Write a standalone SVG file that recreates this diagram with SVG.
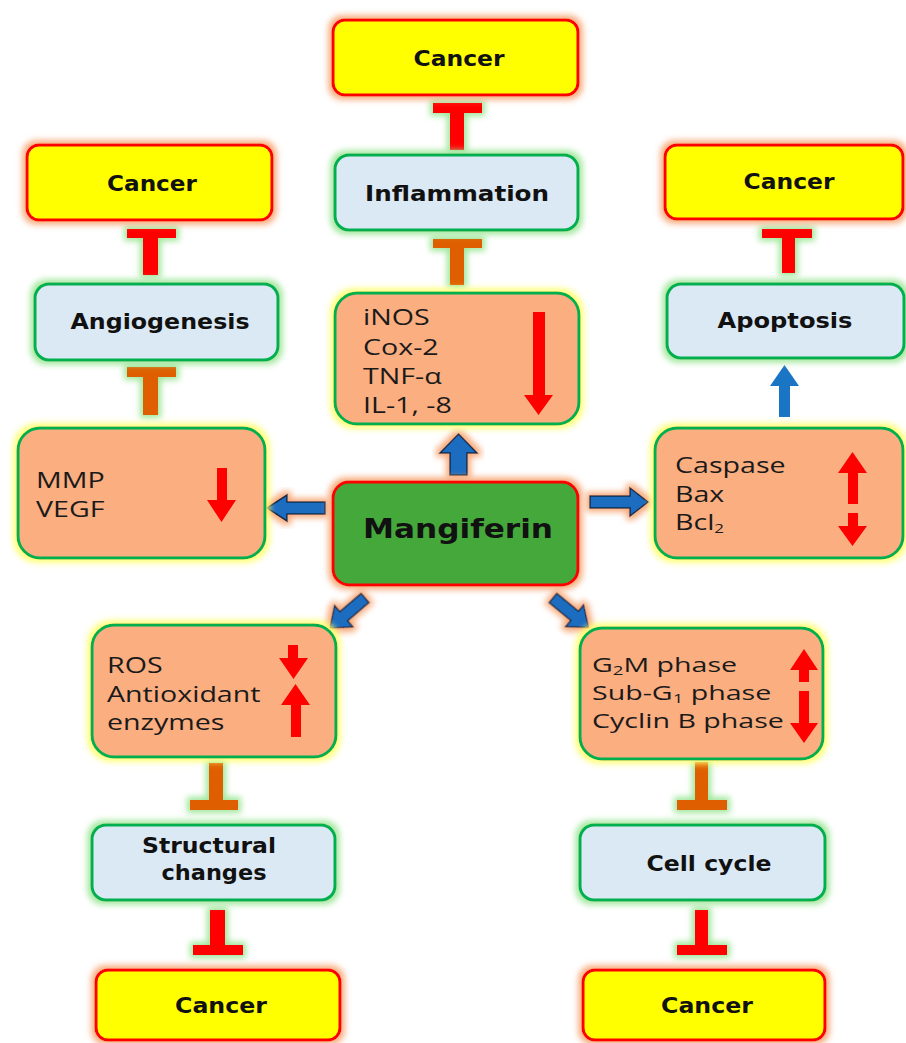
<svg xmlns="http://www.w3.org/2000/svg" width="906" height="1043" viewBox="0 0 906 1043">
<defs>
<filter id="glowO" x="-20%" y="-30%" width="140%" height="160%">
<feMorphology in="SourceAlpha" operator="dilate" radius="3" result="d"/>
<feGaussianBlur in="d" stdDeviation="3" result="b"/>
<feFlood flood-color="#f7a877"/>
<feComposite in2="b" operator="in" result="g"/>
<feMerge><feMergeNode in="g"/><feMergeNode in="SourceGraphic"/></feMerge>
</filter>
<filter id="glowG" x="-20%" y="-30%" width="140%" height="160%">
<feMorphology in="SourceAlpha" operator="dilate" radius="3" result="d"/>
<feGaussianBlur in="d" stdDeviation="3" result="b"/>
<feFlood flood-color="#9fe79a"/>
<feComposite in2="b" operator="in" result="g"/>
<feMerge><feMergeNode in="g"/><feMergeNode in="SourceGraphic"/></feMerge>
</filter>
<filter id="glowY" x="-20%" y="-30%" width="140%" height="160%">
<feMorphology in="SourceAlpha" operator="dilate" radius="3" result="d"/>
<feGaussianBlur in="d" stdDeviation="3" result="b"/>
<feFlood flood-color="#ffff70"/>
<feComposite in2="b" operator="in" result="g"/>
<feMerge><feMergeNode in="g"/><feMergeNode in="SourceGraphic"/></feMerge>
</filter>
</defs>
<style>
.cancer{fill:#ffff00;stroke:#ff0000;stroke-width:3;filter:url(#glowO)}
.proc{fill:#dbe9f5;stroke:#00b050;stroke-width:3;filter:url(#glowG)}
.mark{fill:#fbae80;stroke:#00b050;stroke-width:3;filter:url(#glowY)}
.mang{fill:#45a83a;stroke:#ff0000;stroke-width:3;filter:url(#glowO)}
.lbl{font-family:"DejaVu Sans",sans-serif;font-weight:bold;font-size:21px;fill:#111;text-anchor:middle}
.body{font-family:"Open Sans","Liberation Sans",sans-serif;font-size:22px;fill:#1a1a1a}
.body2{font-family:"Open Sans","Liberation Sans",sans-serif;font-size:20px;fill:#1a1a1a}
.sub{font-size:13px}
.tr{fill:#ff0000;filter:url(#glowG)}
.to{fill:#df5f00;filter:url(#glowG)}
.blue{fill:#1f6cc0;stroke:#0e2c4e;stroke-width:1.5;stroke-linejoin:miter;filter:url(#glowO)}
.blue2{fill:#1a75c4}
.red{fill:#ff0000}
</style>
<rect width="906" height="1043" fill="#ffffff"/>

<g id="connectors">
<path class="tr" d="M433,103 H482 V113 H464 V150 H450 V113 H433 Z"/>
<path class="to" d="M433,239 H482 V248 H464 V285 H450 V248 H433 Z"/>
<path class="tr" d="M127,229 H176 V238 H158 V275 H143 V238 H127 Z"/>
<path class="to" d="M127,367 H176 V377 H158 V415 H143 V377 H127 Z"/>
<path class="tr" d="M762,229 H812 V238 H795 V273 H782 V238 H762 Z"/>
<path class="to" d="M209,763 H223 V800 H238 V810 H190 V800 H209 Z"/>
<path class="tr" d="M210,910 H225 V945 H243 V955 H193 V945 H210 Z"/>
<path class="to" d="M695,762 H708 V800 H727 V810 H677 V800 H695 Z"/>
<path class="tr" d="M695,910 H708 V945 H727 V955 H677 V945 H695 Z"/>
<path class="blue" d="M458.5,434 L477,453 H467 V475 H450 V453 H440 Z"/>
<path class="blue" d="M267,508 L287,495 V502 H325 V514 H287 V521 Z"/>
<path class="blue" d="M590,496 H630 V488 L648,502 L630,516 V508 H590 Z"/>
<path class="blue" transform="translate(365,598) rotate(139.4)" d="M0,-6 H28 V-14 L46,0 L28,14 V6 H0 Z"/>
<path class="blue" transform="translate(553,598) rotate(39.6)" d="M0,-6 H28 V-14 L46,0 L28,14 V6 H0 Z"/>
<path class="blue2" d="M784.5,365 L799,386 H790 V417 H779 V386 H770 Z"/>
</g>

<g id="cancer-top">
<rect class="cancer" x="333" y="20" width="245" height="75" rx="12"/>
<text class="lbl" x="459" y="66" textLength="91" lengthAdjust="spacingAndGlyphs">Cancer</text>
</g>
<g id="inflammation">
<rect class="proc" x="335" y="155" width="243" height="75" rx="14"/>
<text class="lbl" x="457" y="201" textLength="184" lengthAdjust="spacingAndGlyphs">Inflammation</text>
</g>
<g id="inflammatory-markers">
<rect class="mark" x="335" y="293" width="244" height="131" rx="22"/>
<text class="body" transform="translate(363,325) scale(1.3,1)">iNOS</text>
<text class="body" transform="translate(363,355) scale(1.3,1)">Cox-2</text>
<text class="body" transform="translate(363,384) scale(1.3,1)">TNF-α</text>
<text class="body" transform="translate(363,413) scale(1.3,1)">IL-1, -8</text>
<path class="red" d="M533,312 H545 V395 H553 L538.5,415 L524,395 H533 Z"/>
</g>
<g id="mangiferin">
<rect class="mang" x="333" y="482" width="245" height="103" rx="16"/>
<text class="lbl" x="458" y="538" style="font-size:27px" textLength="190" lengthAdjust="spacingAndGlyphs">Mangiferin</text>
</g>

<g id="cancer-left">
<rect class="cancer" x="27" y="145" width="245" height="75" rx="12"/>
<text class="lbl" x="152" y="191" textLength="90" lengthAdjust="spacingAndGlyphs">Cancer</text>
</g>
<g id="angiogenesis">
<rect class="proc" x="35" y="284" width="243" height="76" rx="14"/>
<text class="lbl" x="160" y="329" textLength="179" lengthAdjust="spacingAndGlyphs">Angiogenesis</text>
</g>
<g id="mmp-vegf">
<rect class="mark" x="18" y="428" width="247" height="130" rx="22"/>
<text class="body" transform="translate(36,488) scale(1.3,1)">MMP</text>
<text class="body" transform="translate(36,517) scale(1.3,1)">VEGF</text>
<path class="red" d="M217,468 H227 V500 H236 L221.5,522 L207,500 H217 Z"/>
</g>

<g id="cancer-right">
<rect class="cancer" x="665" y="145" width="238" height="74" rx="12"/>
<text class="lbl" x="789" y="189" textLength="91" lengthAdjust="spacingAndGlyphs">Cancer</text>
</g>
<g id="apoptosis">
<rect class="proc" x="667" y="284" width="237" height="74" rx="14"/>
<text class="lbl" x="785" y="328" textLength="135" lengthAdjust="spacingAndGlyphs">Apoptosis</text>
</g>
<g id="caspase-bax-bcl2">
<rect class="mark" x="655" y="428" width="248" height="130" rx="22"/>
<text class="body" transform="translate(675,473) scale(1.3,1)">Caspase</text>
<text class="body" transform="translate(675,502) scale(1.3,1)">Bax</text>
<text class="body" transform="translate(675,530) scale(1.3,1)">Bcl<tspan class="sub" dy="3">2</tspan></text>
<path class="red" d="M852.5,452 L867,473 H858 V504 H848 V473 H838 Z"/>
<path class="red" d="M848,513 H858 V526 H867 L852.5,546 L838,526 H848 Z"/>
</g>

<g id="ros-antioxidant">
<rect class="mark" x="92" y="625" width="244" height="132" rx="22"/>
<text class="body" transform="translate(107,673) scale(1.3,1)">ROS</text>
<text class="body" transform="translate(107,702) scale(1.3,1)">Antioxidant</text>
<text class="body" transform="translate(107,730) scale(1.3,1)">enzymes</text>
<path class="red" d="M288,645 H298 V658 H308 L293.5,679 L279,658 H288 Z"/>
<path class="red" d="M295.5,684 L310,705 H301 V737 H291 V705 H281 Z"/>
</g>
<g id="structural-changes">
<rect class="proc" x="92" y="825" width="243" height="75" rx="14"/>
<text class="lbl" x="209" y="853" textLength="134" lengthAdjust="spacingAndGlyphs">Structural</text>
<text class="lbl" x="214" y="880" textLength="105" lengthAdjust="spacingAndGlyphs">changes</text>
</g>
<g id="cancer-bottom-left">
<rect class="cancer" x="96" y="970" width="244" height="70" rx="12"/>
<text class="lbl" x="221" y="1013" textLength="92" lengthAdjust="spacingAndGlyphs">Cancer</text>
</g>

<g id="cell-cycle-markers">
<rect class="mark" x="580" y="628" width="243" height="131" rx="22"/>
<text class="body2" transform="translate(592,672) scale(1.43,1)">G<tspan class="sub" dy="3">2</tspan><tspan dy="-3">M phase</tspan></text>
<text class="body2" transform="translate(592,700) scale(1.43,1)">Sub-G<tspan class="sub" dy="3">1</tspan><tspan dy="-3"> phase</tspan></text>
<text class="body2" transform="translate(592,728) scale(1.43,1)">Cyclin B phase</text>
<path class="red" d="M804,649 L818,670 H809 V682 H799 V670 H790 Z"/>
<path class="red" d="M799,691 H809 V723 H818 L804,743 L790,723 H799 Z"/>
</g>
<g id="cell-cycle">
<rect class="proc" x="580" y="825" width="245" height="75" rx="14"/>
<text class="lbl" x="709" y="871" textLength="125" lengthAdjust="spacingAndGlyphs">Cell cycle</text>
</g>
<g id="cancer-bottom-right">
<rect class="cancer" x="583" y="970" width="242" height="70" rx="12"/>
<text class="lbl" x="707" y="1013" textLength="92" lengthAdjust="spacingAndGlyphs">Cancer</text>
</g>
</svg>
